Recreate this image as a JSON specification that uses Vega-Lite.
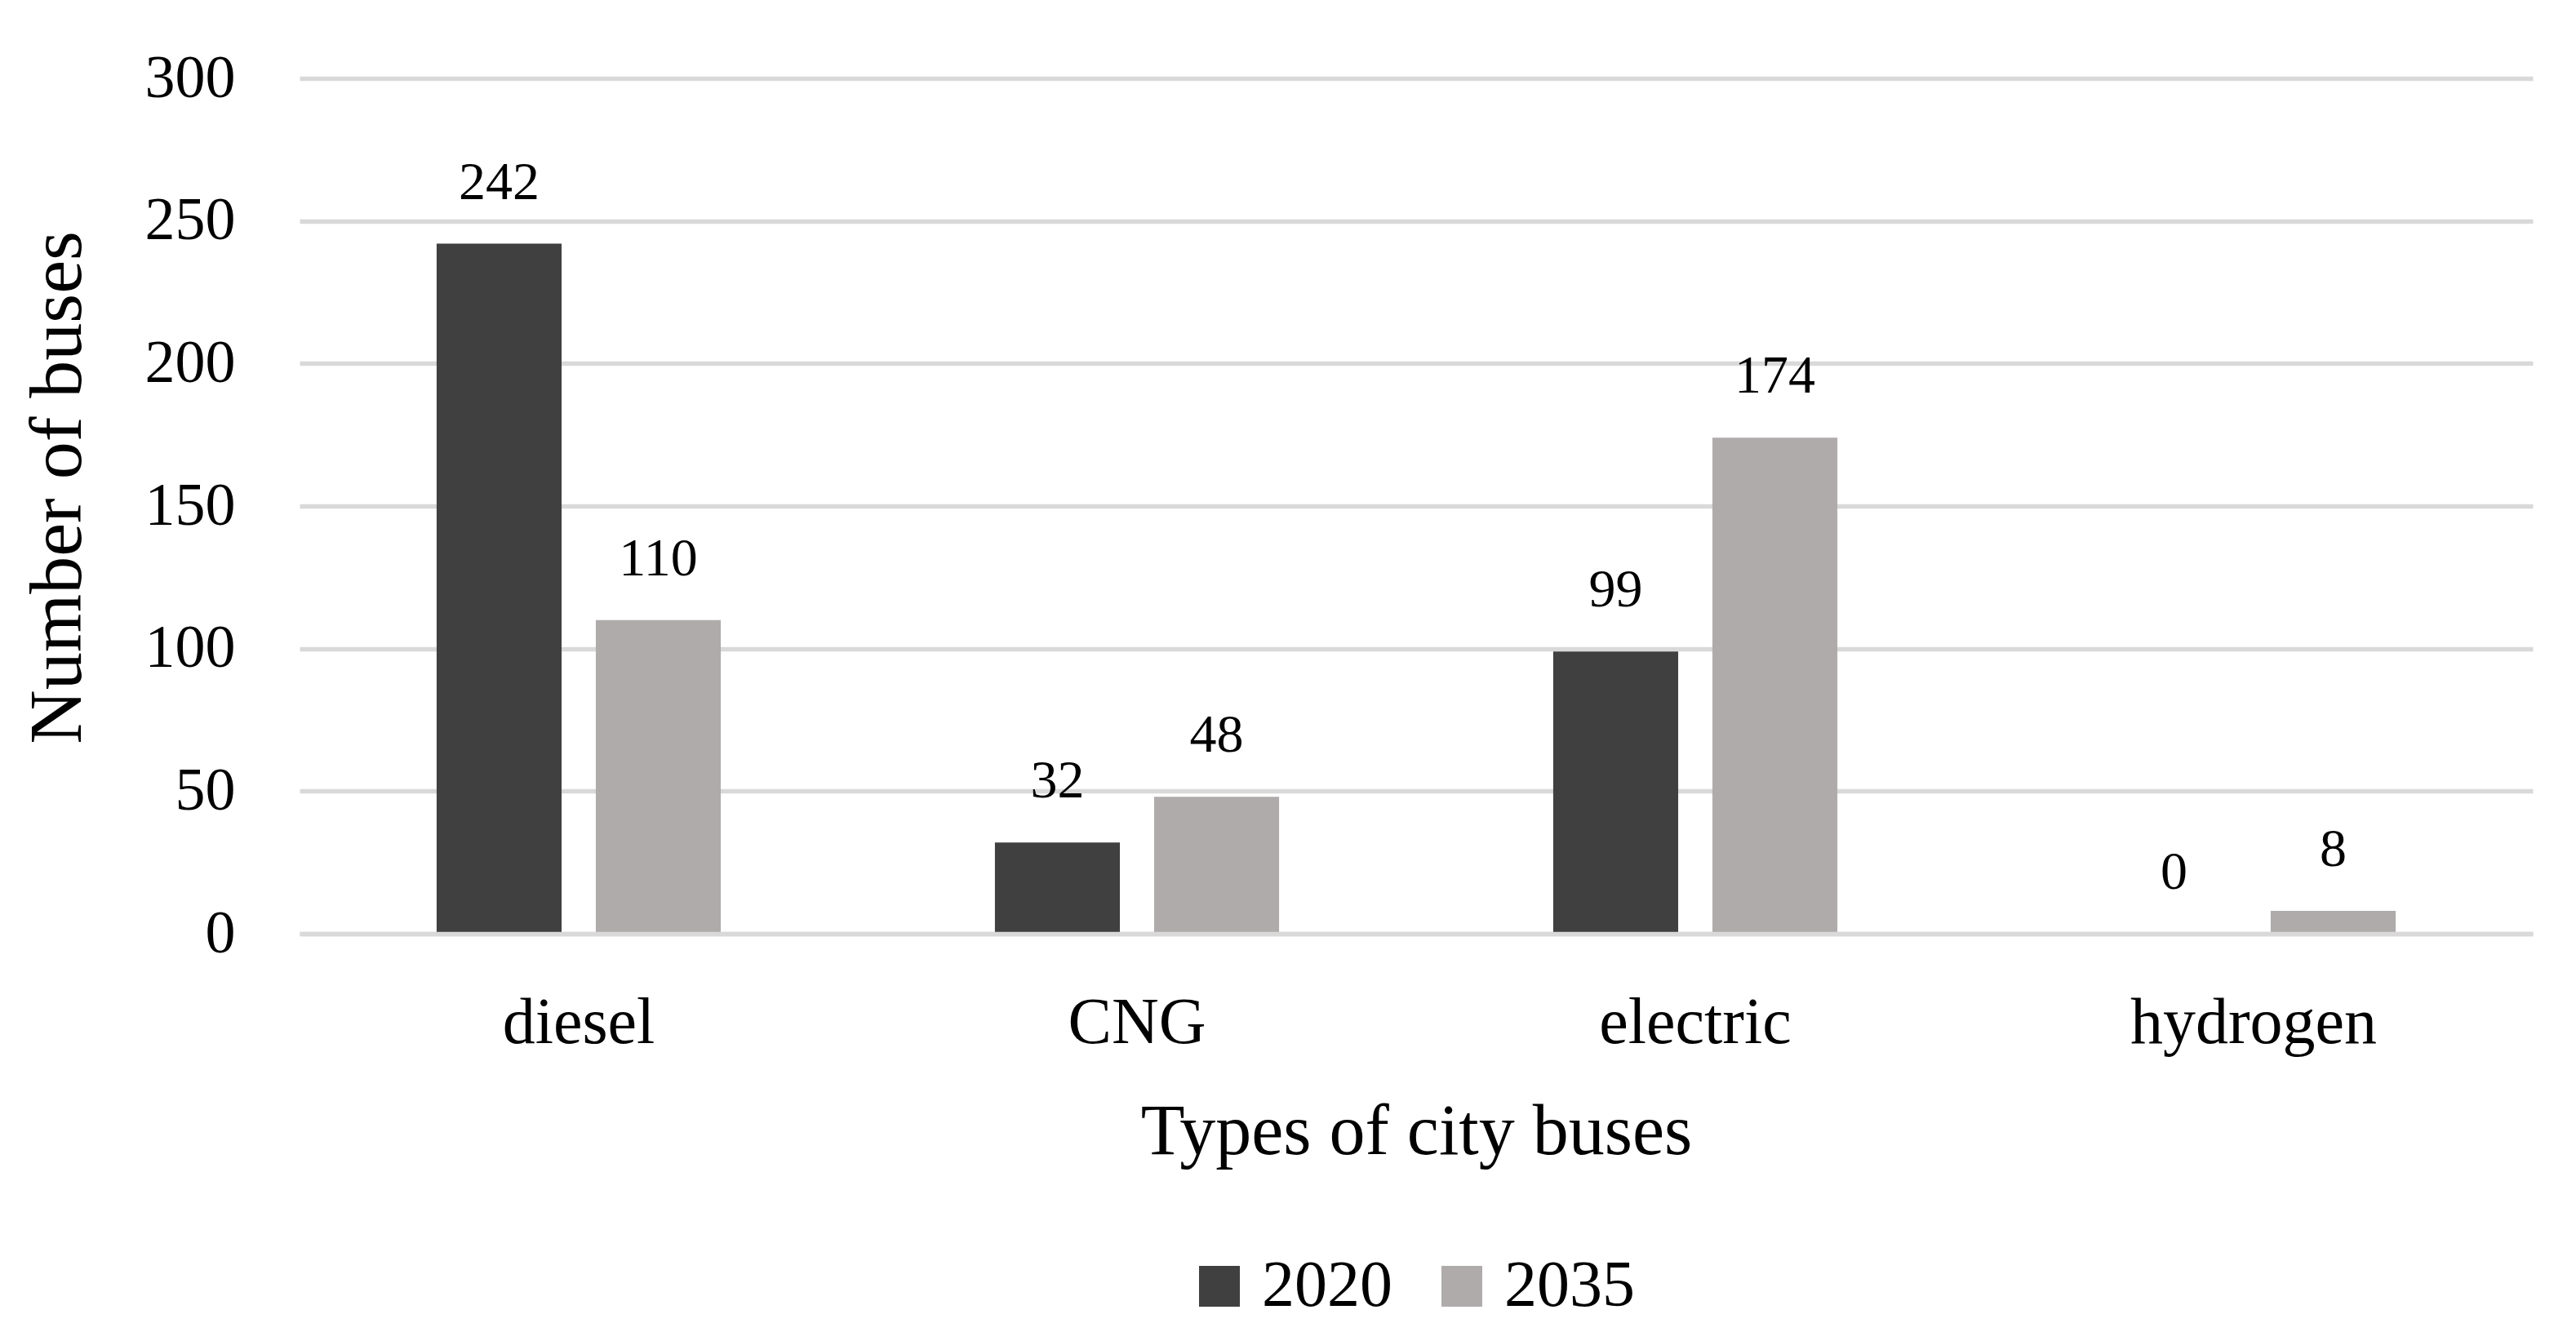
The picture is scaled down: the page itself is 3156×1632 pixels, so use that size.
{
  "$schema": "https://vega.github.io/schema/vega-lite/v6.json",
  "width": 2736,
  "height": 1048,
  "autosize": {"type": "none"},
  "padding": {"left": 367, "top": 96, "right": 53, "bottom": 488},
  "background": "white",
  "config": {"font": "Liberation Serif", "view": {"stroke": null}},
  "data": {
    "values": [
      {"type": "diesel", "year": "2020", "buses": 242},
      {"type": "diesel", "year": "2035", "buses": 110},
      {"type": "CNG", "year": "2020", "buses": 32},
      {"type": "CNG", "year": "2035", "buses": 48},
      {"type": "electric", "year": "2020", "buses": 99},
      {"type": "electric", "year": "2035", "buses": 174},
      {"type": "hydrogen", "year": "2020", "buses": 0},
      {"type": "hydrogen", "year": "2035", "buses": 8}
    ]
  },
  "encoding": {
    "x": {
      "field": "type",
      "type": "nominal",
      "sort": ["diesel", "CNG", "electric", "hydrogen"],
      "scale": {"paddingInner": 0.491, "paddingOuter": 0.2455},
      "axis": {
        "zindex": 1,
        "grid": false,
        "domain": true,
        "domainColor": "#D9D9D9",
        "domainWidth": 5.5,
        "ticks": false,
        "tickSize": 0,
        "labelAngle": 0,
        "labelFontSize": 80,
        "labelPadding": 70,
        "labelLimit": 0,
        "labelColor": "black",
        "title": "Types of city buses",
        "titleFontSize": 88,
        "titleFontWeight": "normal",
        "titleColor": "black",
        "titleBaseline": "alphabetic",
        "titleY": 269
      }
    },
    "xOffset": {
      "field": "year",
      "type": "nominal",
      "scale": {"paddingInner": 0.215, "paddingOuter": 0}
    },
    "y": {
      "field": "buses",
      "type": "quantitative",
      "scale": {"domain": [0, 300]},
      "axis": {
        "values": [0, 50, 100, 150, 200, 250, 300],
        "grid": true,
        "gridColor": "#D9D9D9",
        "gridWidth": 5.5,
        "domain": false,
        "ticks": false,
        "tickSize": 0,
        "labelFontSize": 74,
        "labelPadding": 79,
        "labelLimit": 0,
        "labelColor": "black",
        "labelBaseline": "middle",
        "title": "Number of buses",
        "titleFontSize": 92,
        "titleFontWeight": "normal",
        "titleColor": "black",
        "titleAngle": -90,
        "titleAlign": "center",
        "titleBaseline": "alphabetic",
        "titleX": -269,
        "titleY": 501
      }
    }
  },
  "layer": [
    {
      "mark": {"type": "bar"},
      "encoding": {
        "color": {
          "field": "year",
          "type": "nominal",
          "scale": {"domain": ["2020", "2035"], "range": ["#404040", "#AFABAB"]},
          "legend": {
            "orient": "none",
            "legendX": 1087,
            "legendY": 1440,
            "direction": "horizontal",
            "title": null,
            "symbolType": "square",
            "symbolSize": 2500,
            "symbolStrokeWidth": 0,
            "labelFontSize": 80,
            "labelLimit": 0,
            "labelColor": "black",
            "labelOffset": 12,
            "columnPadding": 45,
            "padding": 0
          }
        }
      }
    },
    {
      "mark": {"type": "text", "fontSize": 66, "color": "black", "baseline": "alphabetic", "align": "center", "dy": -55},
      "encoding": {"text": {"field": "buses", "type": "quantitative"}}
    }
  ]
}
